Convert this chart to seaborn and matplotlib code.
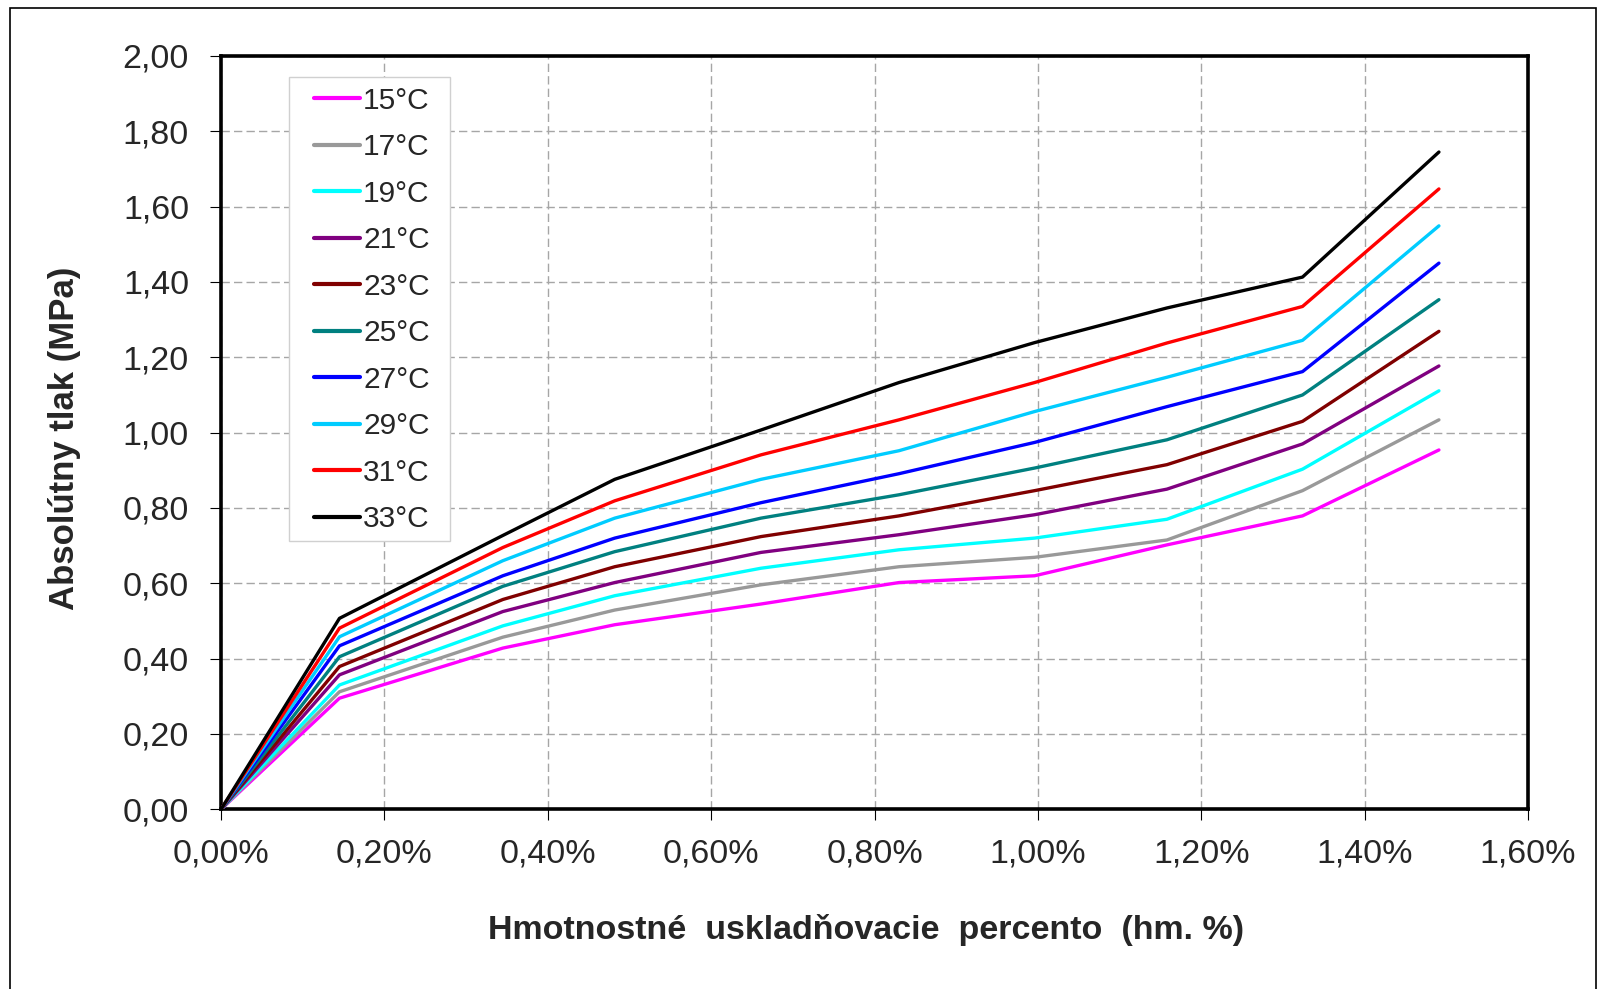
import numpy as np
import pandas as pd
import matplotlib
matplotlib.use("Agg")
import matplotlib.pyplot as plt
import matplotlib.patches as mpatches
from matplotlib.ticker import FuncFormatter, MultipleLocator
import seaborn as sns

# hmotnostne uskladnovacie percento (hm. %)
x_pct = [0.0, 0.145, 0.345, 0.482, 0.661, 0.830, 0.996, 1.158, 1.324, 1.491]

# absolutny tlak (MPa) pre jednotlive teploty
p15 = [0, 0.295, 0.428, 0.490, 0.545, 0.602, 0.620, 0.702, 0.779, 0.954]
p17 = [0, 0.312, 0.457, 0.529, 0.596, 0.644, 0.669, 0.715, 0.846, 1.034]
p19 = [0, 0.330, 0.487, 0.567, 0.640, 0.689, 0.720, 0.770, 0.903, 1.111]
p21 = [0, 0.357, 0.525, 0.602, 0.682, 0.729, 0.782, 0.850, 0.970, 1.177]
p23 = [0, 0.379, 0.557, 0.644, 0.724, 0.779, 0.846, 0.915, 1.030, 1.269]
p25 = [0, 0.405, 0.592, 0.684, 0.773, 0.835, 0.906, 0.981, 1.100, 1.353]
p27 = [0, 0.434, 0.620, 0.720, 0.814, 0.891, 0.974, 1.069, 1.162, 1.450]
p29 = [0, 0.458, 0.660, 0.773, 0.876, 0.952, 1.056, 1.147, 1.245, 1.549]
p31 = [0, 0.481, 0.695, 0.819, 0.941, 1.034, 1.133, 1.238, 1.335, 1.647]
p33 = [0, 0.507, 0.727, 0.876, 1.007, 1.133, 1.239, 1.331, 1.413, 1.745]

labels = ["15°C", "17°C", "19°C", "21°C", "23°C",
          "25°C", "27°C", "29°C", "31°C", "33°C"]
series = [p15, p17, p19, p21, p23, p25, p27, p29, p31, p33]
colors = ["#FF00FF", "#999999", "#00FFFF", "#800080", "#800000",
          "#008080", "#0000FF", "#00CCFF", "#FF0000", "#000000"]

rows = []
for lab, vals in zip(labels, series):
    for xv, yv in zip(x_pct, vals):
        rows.append({"x": xv, "p": yv, "T": lab})
df = pd.DataFrame(rows)

sns.set_theme(style="white")
plt.rcParams["font.family"] = ["Liberation Sans", "DejaVu Sans"]

fig = plt.figure(figsize=(16.04, 9.89), dpi=100)
ax = fig.add_axes([0.1378, 0.1817, 0.9526 - 0.1378, 0.9434 - 0.1817])

sns.lineplot(data=df, x="x", y="p", hue="T", hue_order=labels,
             palette=dict(zip(labels, colors)), sort=False,
             linewidth=2.4, ax=ax, zorder=3)

ax.set_xlim(0, 1.6)
ax.set_ylim(0, 2.0)
ax.xaxis.set_major_locator(MultipleLocator(0.2))
ax.yaxis.set_major_locator(MultipleLocator(0.2))
ax.xaxis.set_major_formatter(FuncFormatter(lambda v, p: f"{v:.2f}%".replace(".", ",")))
ax.yaxis.set_major_formatter(FuncFormatter(lambda v, p: f"{v:.2f}".replace(".", ",")))

ax.set_axisbelow(True)
ax.grid(True, color="#a6a6a6", linewidth=1.0, linestyle=(0, (6, 3)))

for s in ax.spines.values():
    s.set_color("black")
    s.set_linewidth(2.6)
    s.set_visible(True)

ax.tick_params(axis="both", which="major", direction="out", length=8,
               width=0.8, color="black", labelsize=24.5, bottom=True, left=True)
ax.tick_params(axis="y", pad=15)
ax.tick_params(axis="x", pad=13)

ax.set_xlabel("Hmotnostné  uskladňovacie  percento  (hm. %)", fontsize=24.5,
              fontweight="bold", labelpad=32)
ax.set_ylabel("Absolútny tlak (MPa)", fontsize=25, fontweight="bold", labelpad=30)
ax.xaxis.label.set_x(0.4935)
ax.yaxis.label.set_y(0.493)

# ramcek legendy
ax.add_patch(mpatches.Rectangle((0.052, 0.3562), 0.1232, 0.616,
                                transform=ax.transAxes, facecolor="white",
                                edgecolor="#d0d0d0", linewidth=1.0, zorder=4))

handles, labs = ax.get_legend_handles_labels()
leg = ax.legend(handles, labs, loc="upper left", bbox_to_anchor=(0.0712, 0.9591),
                borderaxespad=0, fontsize=21.5, frameon=False,
                handlelength=1.54, handletextpad=0.1, labelspacing=0.62,
                borderpad=0)
leg.set_zorder(5)
for h in leg.get_lines():
    h.set_linewidth(3.0)

# ramcek okolo celeho grafu
fig.patches.append(mpatches.Rectangle((10 / 1604, -0.01), 1586 / 1604, 0.9919 + 0.01,
                                      transform=fig.transFigure, fill=False,
                                      edgecolor="black", linewidth=1.2))

fig.savefig("out.png", dpi=100)
